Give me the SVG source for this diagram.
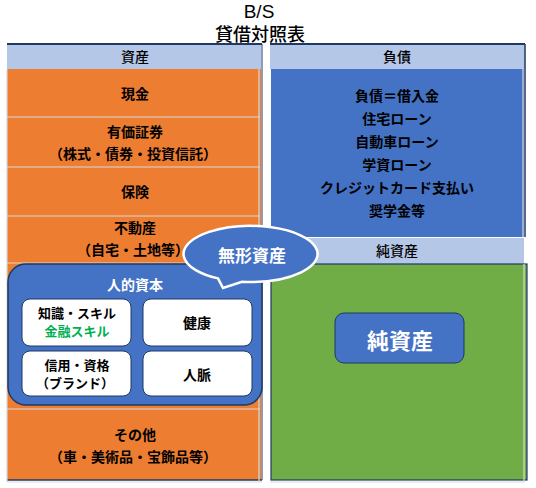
<svg xmlns="http://www.w3.org/2000/svg" width="536" height="488" viewBox="0 0 536 488">
<style>
text{font-family:"Noto Sans CJK JP","Noto Sans",sans-serif;text-anchor:middle;dominant-baseline:central}
.t{font-size:14px;font-weight:bold;fill:#000}
.s{font-size:13px;font-weight:bold;fill:#000}
.h{font-size:14px;font-weight:500;fill:#000}
.w{fill:#fff;font-weight:bold}
.org{fill:#ED7D31}
.sep{stroke:#D9D9D9;stroke-width:1.2}
.hdr{fill:#B4C7E7}
.box{fill:#fff;stroke:#1F3864;stroke-width:1}
</style>
<rect width="536" height="488" fill="#fff"/>
<g id="title">
<text x="259" y="11" style="font-family:'Liberation Sans',Arial,sans-serif;font-size:19px">B/S</text>
<text x="260" y="33" style="font-size:18px;font-weight:500">貸借対照表</text>
</g>
<g id="assets">
<rect x="7" y="44" width="254" height="25" class="hdr"/>
<rect x="7" y="69" width="254" height="411" class="org"/>
<line x1="7" y1="44" x2="262" y2="44" stroke="#1F3864" stroke-width="2"/>
<line x1="262" y1="44" x2="262" y2="480" stroke="#1F3864" stroke-width="1"/>
<line x1="7" y1="480" x2="262" y2="480" stroke="#1F3864" stroke-width="1.5"/>
<line x1="7" y1="69" x2="7" y2="482" class="sep"/>
<line x1="259" y1="69" x2="259" y2="482" class="sep"/>
<line x1="7" y1="117" x2="260" y2="117" class="sep"/>
<line x1="7" y1="167" x2="260" y2="167" class="sep"/>
<line x1="7" y1="216" x2="260" y2="216" class="sep"/>
<line x1="7" y1="263" x2="260" y2="263" class="sep"/>
<line x1="7" y1="409" x2="260" y2="409" class="sep"/>
<line x1="7" y1="482" x2="262" y2="482" class="sep"/>
<text x="135" y="56" class="h">資産</text>
</g>
<g id="cash"><text x="135" y="93" class="t">現金</text></g>
<g id="securities">
<text x="135" y="131" class="t">有価証券</text>
<text x="133" y="153" class="t">（株式・債券・投資信託）</text>
</g>
<g id="insurance"><text x="135" y="191" class="t">保険</text></g>
<g id="realestate">
<text x="135" y="227" class="t">不動産</text>
<text x="133" y="249" class="t">（自宅・土地等）</text>
</g>
<g id="human-capital">
<rect x="8" y="264" width="254" height="141" rx="18" fill="#4472C4" stroke="#1F3864" stroke-width="1.5"/>
<text x="135" y="284" class="w" style="font-size:14px">人的資本</text>
</g>
<g id="knowledge">
<rect x="22" y="299" width="109" height="47" rx="8" class="box"/>
<text x="77" y="312" class="s">知識・スキル</text>
<text x="77" y="330" class="s" style="fill:#00B050">金融スキル</text>
</g>
<g id="health">
<rect x="143" y="299" width="109" height="47" rx="8" class="box"/>
<text x="197" y="322" class="t">健康</text>
</g>
<g id="credit">
<rect x="22" y="351" width="109" height="45" rx="8" class="box"/>
<text x="77" y="364" class="s">信用・資格</text>
<text x="75" y="382" class="s">（ブランド）</text>
</g>
<g id="network">
<rect x="143" y="351" width="109" height="45" rx="8" class="box"/>
<text x="197" y="374" class="t">人脈</text>
</g>
<g id="other">
<text x="135" y="434" class="t">その他</text>
<text x="133" y="456" class="t">（車・美術品・宝飾品等）</text>
</g>
<g id="liabilities">
<rect x="270" y="44" width="255" height="25" class="hdr"/>
<rect x="271" y="69" width="253" height="168" fill="#4472C4"/>
<line x1="270" y1="44" x2="525" y2="44" stroke="#1F3864" stroke-width="2"/>
<line x1="525" y1="44" x2="525" y2="237" stroke="#1F3864" stroke-width="1.5"/>
<line x1="523" y1="69" x2="523" y2="237" class="sep"/>
<text x="397" y="56" class="h">負債</text>
<text x="397" y="95" class="t">負債＝借入金</text>
<text x="397" y="118" class="t">住宅ローン</text>
<text x="397" y="141" class="t">自動車ローン</text>
<text x="397" y="164" class="t">学資ローン</text>
<text x="397" y="187" class="t">クレジットカード支払い</text>
<text x="397" y="210" class="t">奨学金等</text>
</g>
<g id="net-assets">
<rect x="270" y="238" width="254" height="26" class="hdr"/>
<rect x="271" y="264" width="256" height="216" fill="#70AD47" stroke="#1F3864" stroke-width="1.2"/>
<line x1="524" y1="264" x2="524" y2="482" class="sep"/>
<line x1="270" y1="482" x2="524" y2="482" class="sep"/>
<text x="397" y="250" class="h">純資産</text>
</g>
<g id="net-assets-label">
<rect x="335" y="313" width="129" height="50" rx="9" fill="#4472C4" stroke="#1F3864" stroke-width="1"/>
<text x="400" y="339" class="w" style="font-size:22px">純資産</text>
</g>
<g id="intangible">
<path d="M218 278.4 L223 288 L242 281.7 A67 28 0 1 0 218 278.4 Z" fill="#4472C4" stroke="#fff" stroke-width="2.5"/>
<text x="252" y="254" class="w" style="font-size:17px">無形資産</text>
</g>
</svg>
